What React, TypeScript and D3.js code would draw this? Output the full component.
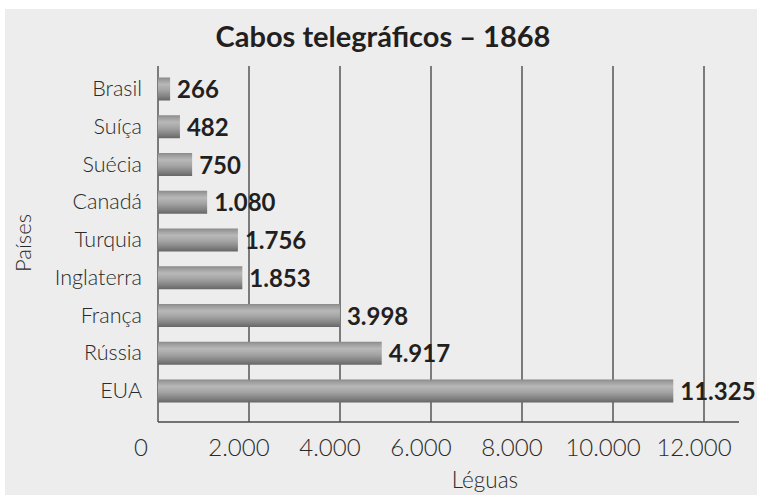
import React from "react";
import * as d3 from "d3";

const countries = ["Brasil", "Suíça", "Suécia", "Canadá", "Turquia", "Inglaterra", "França", "Rússia", "EUA"];
const values = [266, 482, 750, 1080, 1756, 1853, 3998, 4917, 11325];
const valueLabels = ["266", "482", "750", "1.080", "1.756", "1.853", "3.998", "4.917", "11.325"];
const xTicks = [0, 2000, 4000, 6000, 8000, 10000, 12000];
const xTickLabels = ["0", "2.000", "4.000", "6.000", "8.000", "10.000", "12.000"];
const title = "Cabos telegráficos – 1868";
const xTitle = "Léguas";
const yTitle = "Países";

const W = 757;
const H = 495;

export default function App() {
  const x = d3.scaleLinear().domain([0, 12000]).range([158, 704]);
  const y = d3.scalePoint<string>().domain(countries).range([89, 391]);
  const barH = 23;
  const plotTop = 66;
  const plotBottom = 422;
  const axisRight = 739;
  const font = "Lato, 'Open Sans', sans-serif";

  return (
    <svg
      width={W}
      height={H}
      style={{ position: "absolute", left: 0, top: 0, display: "block" }}
      fontFamily={font}
    >
      <defs>
        <linearGradient id="barGrad" x1="0" y1="0" x2="0" y2="1">
          <stop offset="0%" stopColor="#8a8a8a" />
          <stop offset="10%" stopColor="#9c9c9c" />
          <stop offset="30%" stopColor="#b8b8b8" />
          <stop offset="55%" stopColor="#a4a4a4" />
          <stop offset="80%" stopColor="#848484" />
          <stop offset="100%" stopColor="#666666" />
        </linearGradient>
      </defs>
      <rect x={0} y={0} width={W} height={H} fill="#ffffff" />
      <rect x={5} y={9} width={W - 5} height={H - 9} fill="#ededed" />

      <text
        x={383}
        y={47}
        textAnchor="middle"
        fontSize={29}
        fontWeight={700}
        fill="#231f20"
      >
        {title}
      </text>

      {/* gridlines */}
      {xTicks.slice(1).map((t) => (
        <line
          key={t}
          x1={x(t)}
          x2={x(t)}
          y1={plotTop}
          y2={plotBottom}
          stroke="#4a4a4a"
          strokeWidth={1.4}
        />
      ))}
      {/* y axis line */}
      <line x1={x(0)} x2={x(0)} y1={plotTop} y2={plotBottom} stroke="#4a4a4a" strokeWidth={1.4} />
      {/* x axis line */}
      <line x1={x(0)} x2={axisRight} y1={plotBottom} y2={plotBottom} stroke="#4a4a4a" strokeWidth={1.4} />

      {/* bars */}
      {countries.map((c, i) => (
        <rect
          key={c}
          x={x(0)}
          y={(y(c) as number) - barH / 2}
          width={x(values[i]) - x(0)}
          height={barH}
          fill="url(#barGrad)"
        />
      ))}

      {/* value labels */}
      {countries.map((c, i) => (
        <text
          key={c}
          x={x(values[i]) + 7}
          y={(y(c) as number) + 9}
          fontSize={24}
          fontWeight={700}
          fill="#231f20"
        >
          {valueLabels[i]}
        </text>
      ))}

      {/* category labels */}
      {countries.map((c) => (
        <text
          key={c}
          x={142}
          y={(y(c) as number) + 7}
          textAnchor="end"
          fontSize={21.5}
          fontWeight={300}
          fill="#2a2a2a"
        >
          {c}
        </text>
      ))}

      {/* x tick labels */}
      {xTicks.map((t, i) => (
        <text
          key={t}
          x={x(t) - (t === 0 ? 17 : 10)}
          y={456}
          textAnchor="middle"
          fontSize={24}
          fontWeight={300}
          fill="#2a2a2a"
        >
          {xTickLabels[i]}
        </text>
      ))}

      <text x={485} y={488} textAnchor="middle" fontSize={22.5} fontWeight={300} fill="#2a2a2a">
        {xTitle}
      </text>
      <text
        transform="translate(31,243) rotate(-90)"
        textAnchor="middle"
        fontSize={22}
        fontWeight={300}
        fill="#2a2a2a"
      >
        {yTitle}
      </text>
    </svg>
  );
}
